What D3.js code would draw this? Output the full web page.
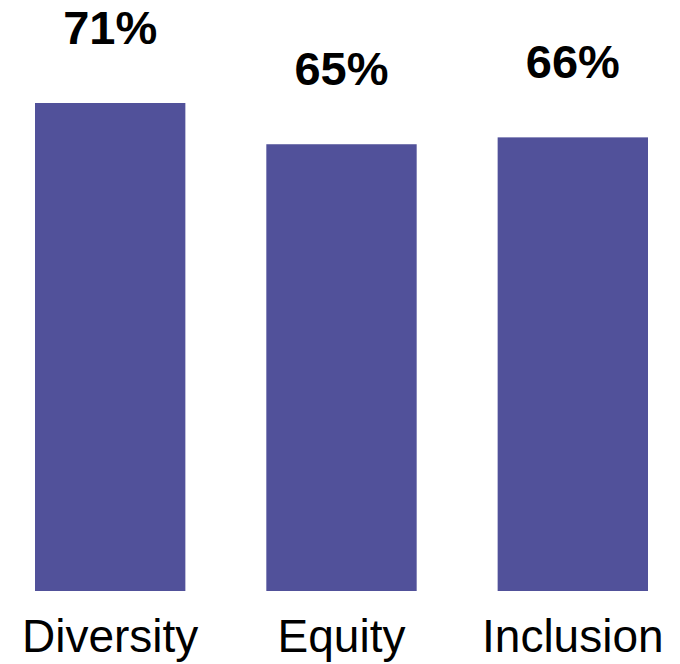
<!DOCTYPE html>
<html>
<head>
<meta charset="utf-8">
<script src="https://cdn.jsdelivr.net/npm/d3@7"></script>
<style>
  body { margin: 0; background: #fff; }
  text { font-family: "Liberation Sans", Arial, sans-serif; fill: #000; }
</style>
</head>
<body>
<div id="chart"></div>
<script>
// --- data ---
const categories = ["Diversity", "Equity", "Inclusion"];
const values = [71, 65, 66];

// --- setup ---
const width = 680, height = 664;
const baseline = 591;

const svg = d3.select("#chart").append("svg")
    .attr("width", width)
    .attr("height", height);

const x = d3.scaleBand()
    .domain(categories)
    .range([35, 648])
    .paddingInner(0.35)
    .paddingOuter(0);

const y = d3.scaleLinear()
    .domain([0, d3.max(values)])
    .range([baseline, 103]);

// bars
svg.selectAll("rect.bar")
    .data(values)
    .join("rect")
    .attr("class", "bar")
    .attr("x", (d, i) => x(categories[i]))
    .attr("y", d => y(d))
    .attr("width", x.bandwidth())
    .attr("height", d => baseline - y(d))
    .attr("fill", "#51519a");

// value labels above bars
svg.selectAll("text.value")
    .data(values)
    .join("text")
    .attr("class", "value")
    .attr("x", (d, i) => x(categories[i]) + x.bandwidth() / 2)
    .attr("y", d => y(d) - 59)
    .attr("text-anchor", "middle")
    .style("font-size", "47px")
    .style("font-weight", "bold")
    .text(d => d + "%");

// category labels
svg.selectAll("text.cat")
    .data(categories)
    .join("text")
    .attr("class", "cat")
    .attr("x", d => x(d) + x.bandwidth() / 2)
    .attr("y", 652)
    .attr("text-anchor", "middle")
    .style("font-size", "46px")
    .text(d => d);
</script>
</body>
</html>
